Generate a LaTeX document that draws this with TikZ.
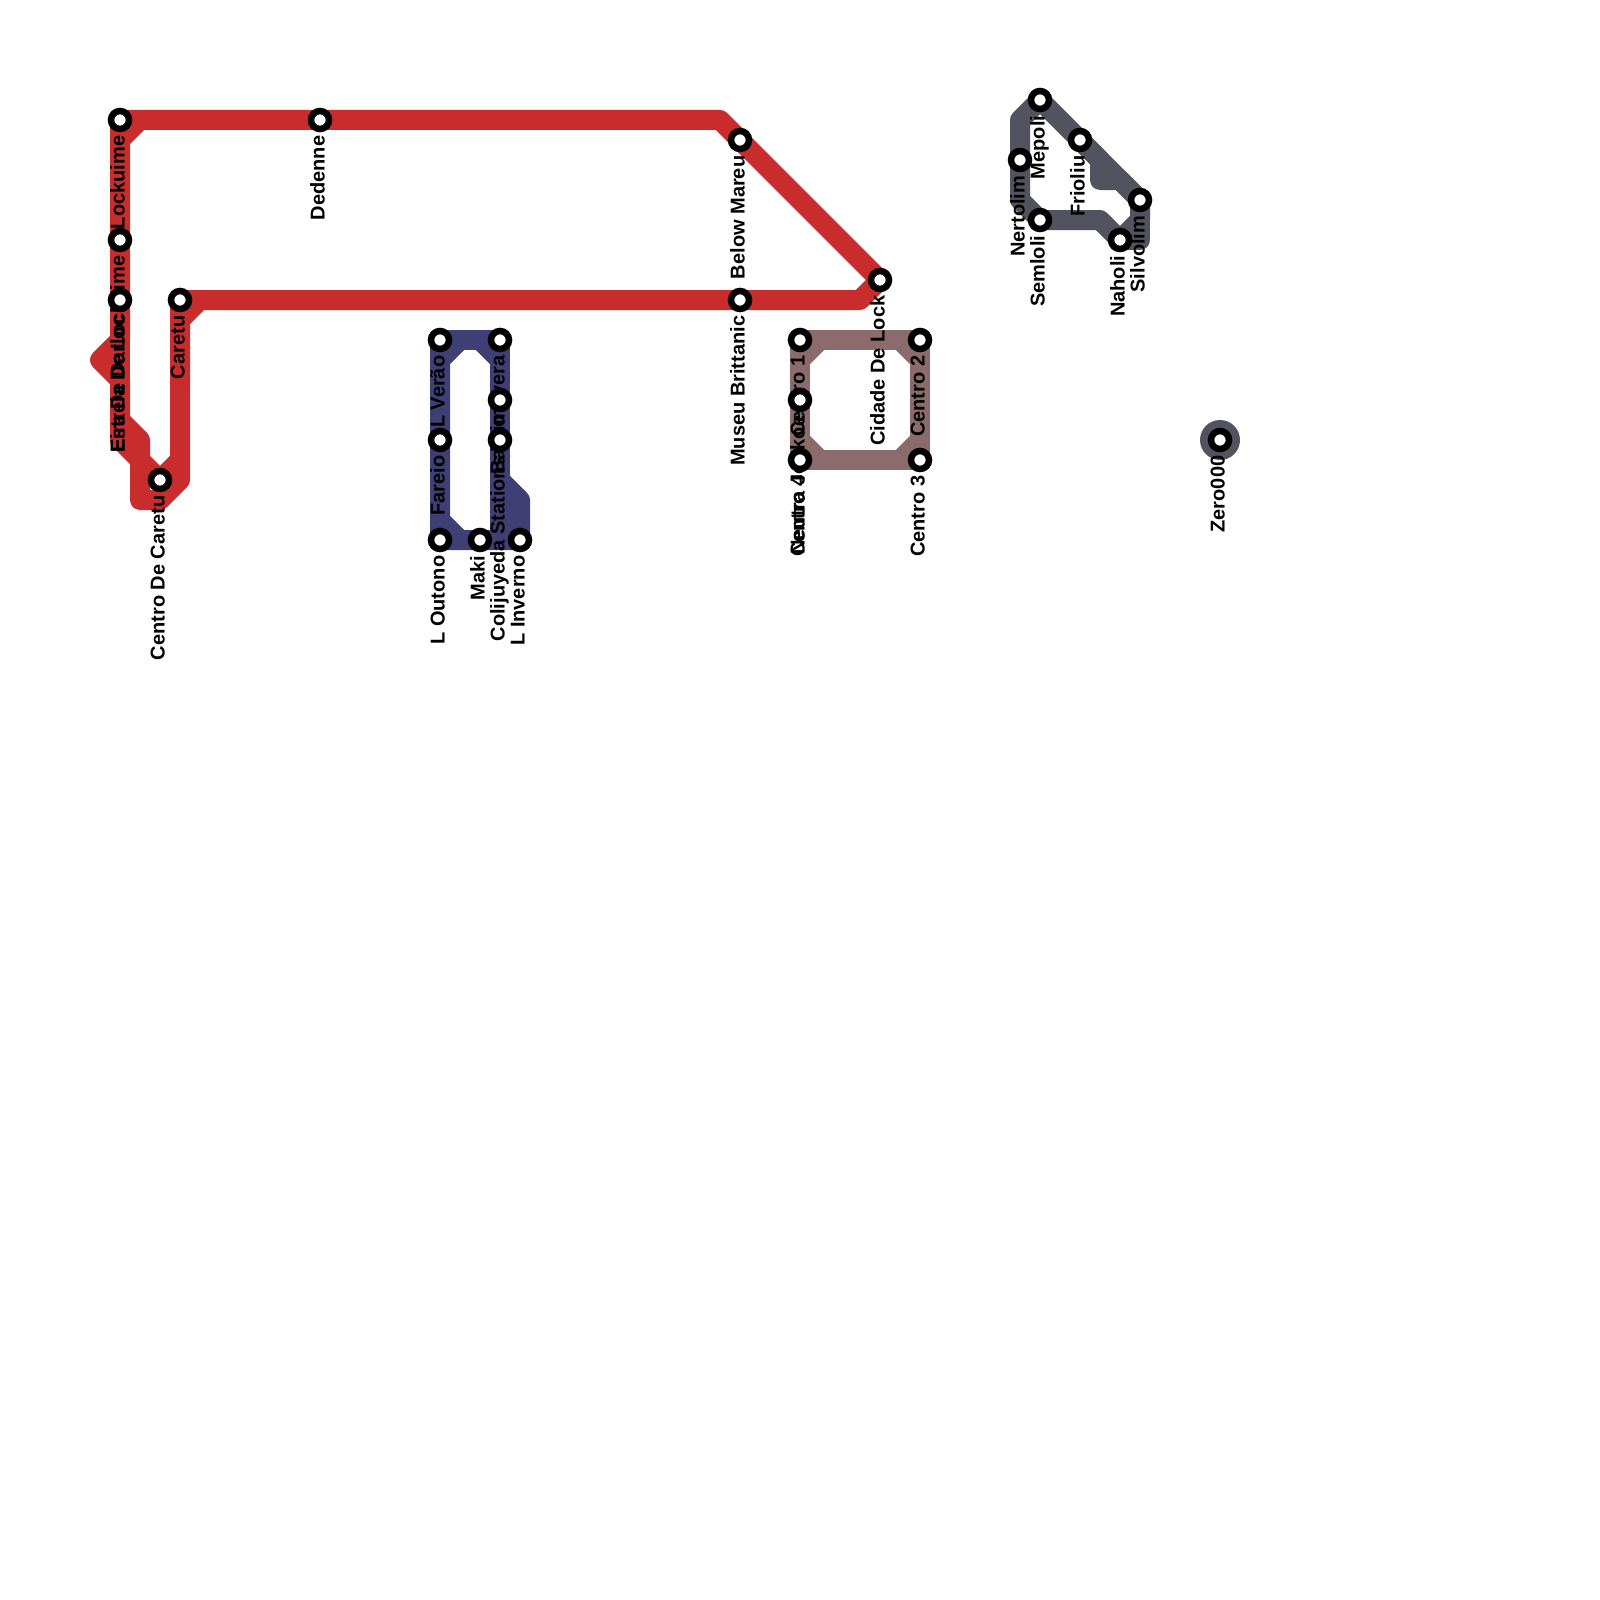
\documentclass[tikz,border=0pt]{standalone}
\usepackage{fontspec}
\setmainfont{Liberation Sans}
\definecolor{redline}{HTML}{C92C2C}
\definecolor{navyline}{HTML}{3F3F76}
\definecolor{brownline}{HTML}{8B6B6B}
\definecolor{grayline}{HTML}{53535F}
\tikzset{
  stn/.style={circle,draw=black,fill=white,line width=6.5pt,minimum size=18pt,inner sep=0pt,outer sep=0pt},
  stnlabel/.style={rotate=90,anchor=base east,inner sep=0pt,font=\bfseries\fontsize{20pt}{20pt}\selectfont,text=black},
  redpath/.style={draw=redline,line width=20pt,line join=round,line cap=round},
  navypath/.style={draw=navyline,line width=20pt,line join=round,line cap=square},
  brownpath/.style={draw=brownline,line width=20pt,line join=round,line cap=square},
  graypath/.style={draw=grayline,line width=20pt,line join=round,line cap=round},
}
\newcommand{\stnlab}[2]{\node[stnlabel] (lab#1) at ([xshift=4.5pt,yshift=-15.5pt]#1) {#2};}
\begin{document}
\begin{tikzpicture}[x=1pt,y=-1pt]
\useasboundingbox (0,0) rectangle (1600,1600);
% station positions
\foreach \n/\x/\y in {lock/120/120,lockb/120/240,darl/120/300,care/180/300,cdc/160/480,dede/320/120,
  mareu/740/140,britt/740/300,cidade/880/280,
  verao/440/340,fareio/440/440,outono/440/540,maki/480/540,prima/500/340,baim/500/400,colij/500/440,inverno/520/540,
  cone/800/340,jonk/800/400,cfour/800/460,ctwo/920/340,cthree/920/460,
  mepoli/1040/100,nerto/1020/160,frio/1080/140,semlo/1040/220,naholi/1120/240,silvo/1140/200,zero/1220/440}
  {\coordinate (\n) at (\x,\y);}
% bend points
\foreach \n/\x/\y in {ra/120/140,rb/140/120,rc/720/120,rd/860/300,re/200/300,rf/180/320,rg/120/340,rh/100/360,ri/120/380,
  rj/120/420,rk/140/440,rl/140/500,rm/160/500,rn/180/480,ro/120/440,rp/140/460,rq/180/460,
  na/440/360,nb/460/340,nc/480/340,nd/500/360,ne/440/520,nf/460/540,ng/500/480,nh/520/500,ni/500/540,
  ba/800/360,bb/820/340,bc/900/340,bd/920/360,be/800/440,bf/820/460,bg/900/460,bh/920/440,
  ga/1020/120,gb/1020/200,gc/1100/220,gd/1140/220,ge/1140/240,gf/1100/160,gg/1100/180,gh/1120/180}
  {\coordinate (\n) at (\x,\y);}
% lines
\draw[redpath] (lock) -- (rc) -- (cidade) -- (rd) -- (re) -- (care) -- (rq) -- (cdc) -- (rp) -- (ro) -- (ri) -- (rh) -- (rg) -- (lock);
\draw[redpath] (rg) -- (ri);
\draw[redpath] (ra) -- (rb);
\draw[redpath] (rf) -- (re);
\draw[redpath] (rj) -- (rk) -- (rl) -- (rm) -- (rn) -- (rq);
\draw[navypath] (verao) -- (prima) -- (ni);
\draw[navypath] (verao) -- (outono) -- (inverno) -- (nh) -- (ng);
\draw[navypath] (na) -- (nb);
\draw[navypath] (nc) -- (nd);
\draw[navypath] (ne) -- (nf);
\draw[brownpath] (cone) -- (ctwo) -- (cthree) -- (cfour) -- (cone);
\draw[brownpath] (ba) -- (bb);
\draw[brownpath] (bc) -- (bd);
\draw[brownpath] (be) -- (bf);
\draw[brownpath] (bg) -- (bh);
\draw[graypath] (mepoli) -- (ga) -- (gb) -- (semlo) -- (gc) -- (naholi) -- (gd) -- (silvo) -- (mepoli);
\draw[graypath] (silvo) -- (ge) -- (naholi);
\draw[graypath] (frio) -- (gf) -- (gg) -- (gh) -- (silvo);
\fill[grayline] (zero) circle[radius=20pt];
% labels
\stnlab{lock}{Lockuime}
\stnlab{lockb}{Estrela De Lockuime}
\stnlab{darl}{Eira De Darloc}
\stnlab{care}{Caretu}
\stnlab{cdc}{Centro De Caretu}
\stnlab{dede}{Dedenne}
\stnlab{mareu}{Below Mareu}
\stnlab{britt}{Museu Brittanic}
\stnlab{cidade}{Cidade De Lock}
\stnlab{verao}{L Verão}
\stnlab{fareio}{Fareio}
\stnlab{outono}{L Outono}
\stnlab{maki}{Maki}
\stnlab{prima}{Primavera}
\stnlab{baim}{Bairro}
\stnlab{colij}{Colijuyeda Stations}
\stnlab{inverno}{L Inverno}
\stnlab{cone}{Centro 1}
\stnlab{jonk}{Neutra Jonkoe}
\stnlab{cfour}{Centro 4}
\stnlab{ctwo}{Centro 2}
\stnlab{cthree}{Centro 3}
\stnlab{mepoli}{Mepoli}
\stnlab{nerto}{Nertolim}
\stnlab{frio}{Frioliu}
\stnlab{semlo}{Semloli}
\stnlab{naholi}{Naholi}
\stnlab{silvo}{Silvolim}
\stnlab{zero}{Zero000}
% stations
\foreach \n in {lock,lockb,darl,care,cdc,dede,mareu,britt,cidade,verao,fareio,outono,maki,prima,baim,colij,inverno,cone,jonk,cfour,ctwo,cthree,mepoli,nerto,frio,semlo,naholi,silvo,zero}
  {\node[stn] (st\n) at (\n) {};}
\end{tikzpicture}
\end{document}
